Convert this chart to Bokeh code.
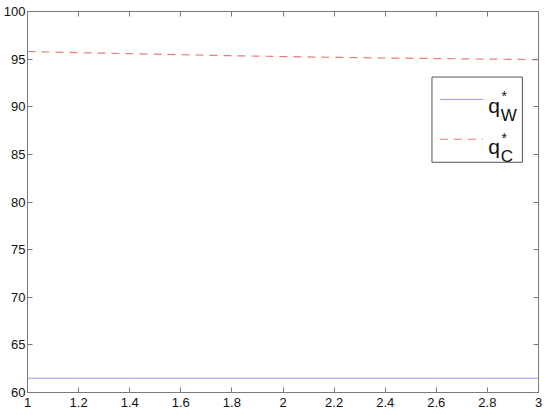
from bokeh.plotting import figure
from bokeh.models import (Range1d, LinearAxis, FixedTicker, NumeralTickFormatter,
                          Label, ColumnDataSource)
from bokeh.embed import file_html
from bokeh.resources import INLINE

# ---- data ----
x_vals = [1.0, 1.2, 1.4, 1.6, 1.8, 2.0, 2.2, 2.4, 2.6, 2.8, 3.0]
q_w = [61.5, 61.5, 61.5, 61.5, 61.5, 61.5, 61.5, 61.5, 61.5, 61.5, 61.5]
q_c = [95.8, 95.68, 95.57, 95.46, 95.36, 95.27, 95.19, 95.12, 95.06, 95.0, 94.95]
x_ticks = [1.0, 1.2, 1.4, 1.6, 1.8, 2.0, 2.2, 2.4, 2.6, 2.8, 3.0]
y_ticks = [60, 65, 70, 75, 80, 85, 90, 95, 100]
series_names = ["W", "C"]
series_colors = ["#9a9ae6", "#ec7b7b"]

FONT = "Liberation Sans"
AXIS_COLOR = "#7a7a7a"

p = figure(width=550, height=415, output_backend="svg", toolbar_location=None,
           x_range=Range1d(1, 3), y_range=Range1d(60, 100),
           x_axis_location=None, y_axis_location=None,
           min_border_left=4, min_border_right=12, min_border_top=11, min_border_bottom=23)
p.grid.visible = False
p.outline_line_color = AXIS_COLOR
p.outline_line_width = 1
p.background_fill_color = "white"
p.border_fill_color = "white"

def label_axis(ticks, fmt, standoff):
    ax = LinearAxis(ticker=FixedTicker(ticks=ticks))
    ax.formatter = fmt
    ax.major_tick_in = 5
    ax.major_tick_out = 0
    ax.minor_tick_line_color = None
    ax.axis_line_color = AXIS_COLOR
    ax.major_tick_line_color = AXIS_COLOR
    ax.major_label_text_font = FONT
    ax.major_label_text_color = "#111111"
    ax.major_label_text_font_size = "13px"
    ax.major_label_standoff = standoff
    return ax

def tick_only_axis(ticks):
    # ticks only (drawn as minor ticks), no labels -- MATLAB box style
    ax = LinearAxis(ticker=FixedTicker(ticks=[], minor_ticks=ticks))
    ax.major_tick_line_color = None
    ax.minor_tick_in = 5
    ax.minor_tick_out = 0
    ax.minor_tick_line_color = AXIS_COLOR
    ax.axis_line_color = AXIS_COLOR
    ax.major_label_standoff = 0
    return ax

xf = NumeralTickFormatter(format="0.[0]")
yf = NumeralTickFormatter(format="0")
p.add_layout(label_axis(x_ticks, xf, 5), "below")
p.add_layout(label_axis(y_ticks, yf, 2), "left")
p.add_layout(tick_only_axis(x_ticks), "above")
p.add_layout(tick_only_axis(y_ticks), "right")

src = ColumnDataSource(dict(x=x_vals, qw=q_w, qc=q_c))
p.line("x", "qw", source=src, line_color=series_colors[0], line_width=1)
p.line("x", "qc", source=src, line_color=series_colors[1], line_width=1.2, line_dash="8 6")

# ---- legend (MATLAB style box) ----
lx0, lx1, ly0, ly1 = 2.583, 2.937, 84.17, 93.12
p.quad(left=[lx0], right=[lx1], bottom=[ly0], top=[ly1],
       fill_color="white", line_color="#555555", line_width=1)
p.line([2.614, 2.783], [90.77, 90.77], line_color=series_colors[0], line_width=1)
p.line([2.614, 2.783], [86.59, 86.59], line_color=series_colors[1], line_width=1.2,
       line_dash="8 6")

rows = [(90.12, 89.12, 91.17), (85.86, 84.80, 86.70)]
for name, (yq, ysub, ystar) in zip(series_names, rows):
    p.add_layout(Label(x=2.803, y=yq, text="q", text_font=FONT, text_font_size="21px",
                       text_color="#111111", text_baseline="alphabetic"))
    p.add_layout(Label(x=2.852, y=ysub, text=name, text_font=FONT, text_font_size="17px",
                       text_color="#111111", text_baseline="alphabetic"))
    p.add_layout(Label(x=2.855, y=ystar, text="*", text_font=FONT, text_font_size="14px",
                       text_color="#111111", text_baseline="alphabetic"))

open("out.html", "w").write(file_html(p, INLINE))
